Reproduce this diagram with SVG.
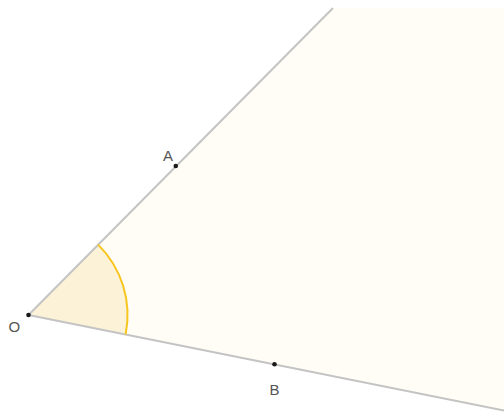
<svg xmlns="http://www.w3.org/2000/svg" width="504" height="412" viewBox="0 0 504 412">
<style>
.ray{stroke:#c4c4c4;stroke-width:2;fill:none}
.pt{fill:#1a1a1a}
.lbl{font-family:"Liberation Sans",Arial,sans-serif;font-size:15px;fill:#555555}
</style>
<rect width="504" height="412" fill="#ffffff"/>
<polygon points="28.5,315 333,8 504,8 504,410.5" fill="#fffdf5"/>
<path d="M28.5,315 L98.1,244.6 A99,99 0 0 1 125.6,334.5 Z" fill="#fcf2d8"/>
<g id="connectors">
<line class="ray" x1="28.5" y1="315" x2="333" y2="8"/>
<line class="ray" x1="28.5" y1="315" x2="504" y2="410.5"/>
<path d="M98.1,244.6 A99,99 0 0 1 125.6,334.5" fill="none" stroke="#f7c51e" stroke-width="2"/>
</g>
<g id="O"><circle class="pt" cx="28.5" cy="315" r="2.3"/><text class="lbl" x="8.5" y="331.5">O</text></g>
<g id="A"><circle class="pt" cx="175.8" cy="166" r="2.3"/><text class="lbl" x="163" y="160.7">A</text></g>
<g id="B"><circle class="pt" cx="274.5" cy="364.3" r="2.3"/><text class="lbl" x="269.5" y="395">B</text></g>
</svg>
